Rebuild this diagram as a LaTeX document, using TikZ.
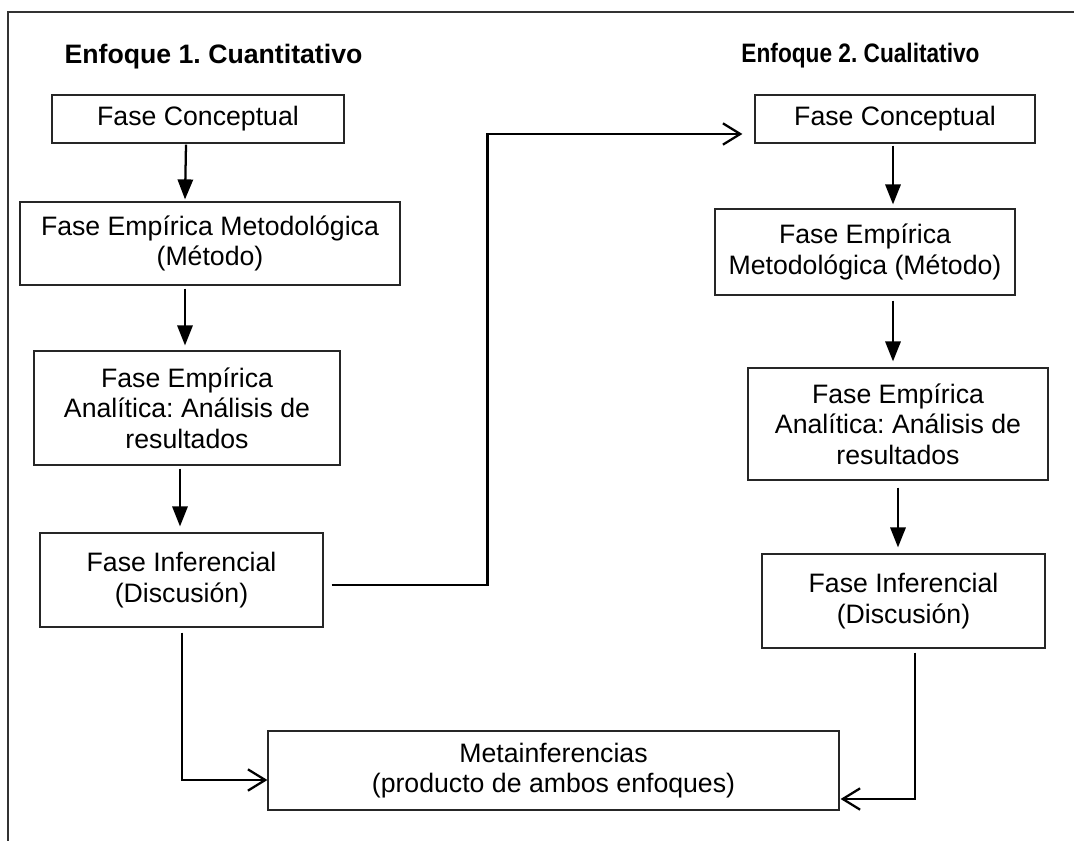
\documentclass[tikz,border=0pt]{standalone}
\usepackage{fontspec}
\usepackage{graphicx}
\setmainfont{Liberation Sans}
\usetikzlibrary{arrows.meta,calc}
\begin{document}
\frenchspacing
\begin{tikzpicture}[x=0.75pt,y=-0.75pt,
  every node/.style={font=\fontsize{20}{23}\selectfont},
  phase/.style={draw=black!85,line width=0.9pt,align=center,inner sep=0pt,
    minimum width=#1},
  heading/.style={font=\fontsize{20}{23}\selectfont\bfseries},
  flow/.style={line width=1.7pt,-{Triangle[length=15pt,width=11.5pt]}},
  link/.style={line width=1.7pt,-{Straight Barb[length=13pt,width=16pt]}},
  frame/.style={draw=black!80,line width=0.8pt}]

\useasboundingbox (0,0) rectangle (1074,841);

% page frame (top and left rules)
\draw[frame] (1074,12) -- (8,12) -- (8,841);

% headings
\node[heading] (h1) at (213.5,57) {Enfoque 1. Cuantitativo};
\node[heading] (h2) at (860.5,56) {\scalebox{0.85}[1]{Enfoque 2. Cualitativo}};

% quantitative approach
\node[phase=219pt,minimum height=36pt] (l1) at (198,119) {Fase Conceptual};
\node[phase=285pt,minimum height=62.25pt] (l2) at (210,243.5) {Fase Empírica Metodológica\\(Método)};
\node[phase=229.5pt,minimum height=85.5pt] (l3) at (187,408) {Fase Empírica\\Analítica: Análisis de\\resultados};
\node[phase=212.25pt,minimum height=70.5pt] (l4) at (181.5,580) {Fase Inferencial\\(Discusión)};

% qualitative approach
\node[phase=210pt,minimum height=36pt] (r1) at (895,119) {Fase Conceptual};
\node[phase=225pt,minimum height=64.5pt] (r2) at (865,252) {Fase Empírica\\Metodológica (Método)};
\node[phase=225pt,minimum height=84pt] (r3) at (898,424) {Fase Empírica\\Analítica: Análisis de\\resultados};
\node[phase=212.25pt,minimum height=70.5pt] (r4) at (903.5,601) {Fase Inferencial\\(Discusión)};

% combined result
\node[phase=428.25pt,minimum height=59.25pt] (m) at (553.5,770.5) {Metainferencias\\(producto de ambos enfoques)};

% steps within each approach
\draw[flow] ($(l1.south)+(-12,1)$) -- ($(l2.north)+(-25,-2)$);
\draw[flow] ($(l2.south)+(-25,3)$) -- ($(l3.north)+(-2,-5)$);
\draw[flow] ($(l3.south)+(-7,3)$) -- ($(l4.north)+(-1.5,-6)$);
\draw[flow] ($(r1.south)+(-2,2)$) -- ($(r2.north)+(28,-4)$);
\draw[flow] ($(r2.south)+(28,5)$) -- ($(r3.north)+(-5,-6)$);
\draw[flow] ($(r3.south)+(0,7)$) -- ($(r4.north)+(-5.5,-6)$);

% links between the approaches and to the metainferences
\draw[link] ($(l4.east)+(8,5)$) -- ++(156,0) |- ($(r1.west)+(-12,15)$);
\draw[link] ($(l4.south)+(0.5,5)$) |- ($(m.west)+(0,9.5)$);
\draw[link] ($(r4.south)+(11.5,4)$) |- ($(m.east)+(1,28.5)$);
\end{tikzpicture}
\end{document}
